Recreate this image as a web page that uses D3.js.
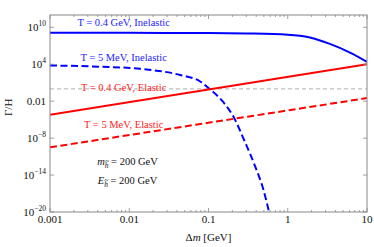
<!DOCTYPE html>
<html>
<head>
<meta charset="utf-8">
<script src="https://cdn.jsdelivr.net/npm/d3@7"></script>
<style>
body { margin: 0; background: #fff; }
text { font-family: "Liberation Serif", "Times New Roman", serif; }
</style>
</head>
<body>
<div id="chart"></div>
<script>
const width = 374;
const height = 247;
const margin = {top: 15, right: 7, bottom: 35, left: 50};

const xTicks = [0.001, 0.01, 0.1, 1, 10];
const xTickLabels = ["0.001", "0.01", "0.1", "1", "10"];
const yTicks = [1e10, 1e4, 1e-2, 1e-8, 1e-14, 1e-20];
const yTickBase = ["10", "10", "0.01", "10", "10", "10"];
const yTickExp = ["10", "4", "", "\u22128", "\u221214", "\u221220"];

// Δm [GeV] and log10(Γ/H)
const dmHotInel = [0.001, 0.01, 0.1, 0.3, 1, 1.9, 3.4, 6.1, 10];
const logHotInel = [9.1, 9.1, 9.07, 9.0, 8.8, 8.35, 7.3, 5.9, 4.4];

const dmColdInel = [0.001, 0.0043, 0.0138, 0.044, 0.0785, 0.103, 0.15, 0.206, 0.29, 0.388, 0.494, 0.6];
const logColdInel = [3.8, 3.6, 3.25, 2.25, 1.2, 0.0, -2.0, -4.5, -8.7, -12.6, -16.4, -20.8];

const dmHotEl = [0.001, 10];
const logHotEl = [-4.2, 4.0];

const dmColdEl = [0.001, 10];
const logColdEl = [-9.5, -1.5];

const series = [
    {dm: dmHotInel, lg: logHotInel, color: "#0000ff", dash: null},
    {dm: dmColdInel, lg: logColdInel, color: "#0000ff", dash: "7,3.5"},
    {dm: dmHotEl, lg: logHotEl, color: "#ff0000", dash: null},
    {dm: dmColdEl, lg: logColdEl, color: "#ff0000", dash: "7,3.5"}
];

const labels = [
    {text: "T = 0.4 GeV, Inelastic", x: 0.0085, y: 10.2, color: "#2222ff"},
    {text: "T = 5 MeV, Inelastic", x: 0.0085, y: 4.5, color: "#2222ff"},
    {text: "T = 0.4 GeV, Elastic", x: 0.0085, y: -0.4, color: "#ff2222"},
    {text: "T = 5 MeV, Elastic", x: 0.0085, y: -6.35, color: "#ff2222"}
];

const svg = d3.select("#chart")
    .append("svg")
    .attr("width", width)
    .attr("height", height);

const x = d3.scaleLog()
    .domain([0.001, 10])
    .range([margin.left, width - margin.right]);

const y = d3.scaleLog()
    .domain([1e-20, 1e12])
    .range([height - margin.bottom, margin.top]);

svg.append("clipPath")
    .attr("id", "plot-clip")
    .append("rect")
    .attr("x", margin.left)
    .attr("y", margin.top)
    .attr("width", width - margin.left - margin.right)
    .attr("height", height - margin.top - margin.bottom);

// Γ/H = 1 reference line
svg.append("line")
    .attr("x1", x(0.001))
    .attr("x2", x(10))
    .attr("y1", y(1))
    .attr("y2", y(1))
    .attr("stroke", "#999")
    .attr("stroke-width", 0.8)
    .attr("stroke-dasharray", "4,3");

// curve labels
svg.selectAll(".curve-label")
    .data(labels)
    .enter()
    .append("text")
    .attr("class", "curve-label")
    .attr("x", d => x(d.x))
    .attr("y", d => y(Math.pow(10, d.y)))
    .attr("text-anchor", "middle")
    .attr("font-size", "10.5px")
    .attr("fill", d => d.color)
    .text(d => d.text);

const line = d3.line()
    .x(d => x(d[0]))
    .y(d => y(Math.pow(10, d[1])))
    .curve(d3.curveMonotoneX);

svg.append("g")
    .attr("clip-path", "url(#plot-clip)")
    .selectAll("path")
    .data(series)
    .enter()
    .append("path")
    .attr("d", d => line(d.dm.map((v, i) => [v, d.lg[i]])))
    .attr("fill", "none")
    .attr("stroke", d => d.color)
    .attr("stroke-width", 2)
    .attr("stroke-dasharray", d => d.dash);

// frame
svg.append("rect")
    .attr("x", margin.left)
    .attr("y", margin.top)
    .attr("width", width - margin.left - margin.right)
    .attr("height", height - margin.top - margin.bottom)
    .attr("fill", "none")
    .attr("stroke", "#888")
    .attr("stroke-width", 1);

// ticks (inside, on all four sides)
const minorX = [];
[0.001, 0.01, 0.1, 1].forEach(d => {
    for (let k = 2; k <= 9; k++) minorX.push(d * k);
});

const tk = svg.append("g").attr("stroke", "#888").attr("stroke-width", 0.8);
xTicks.forEach(v => {
    tk.append("line").attr("x1", x(v)).attr("x2", x(v))
        .attr("y1", y(1e-20)).attr("y2", y(1e-20) - 4);
    tk.append("line").attr("x1", x(v)).attr("x2", x(v))
        .attr("y1", y(1e12)).attr("y2", y(1e12) + 4);
});
minorX.forEach(v => {
    tk.append("line").attr("x1", x(v)).attr("x2", x(v))
        .attr("y1", y(1e-20)).attr("y2", y(1e-20) - 2);
    tk.append("line").attr("x1", x(v)).attr("x2", x(v))
        .attr("y1", y(1e12)).attr("y2", y(1e12) + 2);
});
yTicks.forEach(v => {
    tk.append("line").attr("x1", x(0.001)).attr("x2", x(0.001) + 4)
        .attr("y1", y(v)).attr("y2", y(v));
    tk.append("line").attr("x1", x(10)).attr("x2", x(10) - 4)
        .attr("y1", y(v)).attr("y2", y(v));
});

svg.selectAll(".xlab")
    .data(xTicks)
    .enter()
    .append("text")
    .attr("class", "xlab")
    .attr("x", d => x(d))
    .attr("y", y(1e-20) + 11)
    .attr("text-anchor", "middle")
    .attr("font-size", "11px")
    .attr("fill", "#111")
    .text((d, i) => xTickLabels[i]);

const ylab = svg.selectAll(".ylab")
    .data(yTicks)
    .enter()
    .append("text")
    .attr("class", "ylab")
    .attr("x", x(0.001) - 4)
    .attr("y", d => y(d) + 4)
    .attr("text-anchor", "end")
    .attr("font-size", "11px")
    .attr("fill", "#111");
ylab.append("tspan").text((d, i) => yTickBase[i]);
ylab.append("tspan")
    .attr("font-size", "7.5px")
    .attr("dy", -5)
    .text((d, i) => yTickExp[i]);

// axis titles
svg.append("text")
    .attr("x", x(0.1))
    .attr("y", height - 6)
    .attr("text-anchor", "middle")
    .attr("font-size", "11px")
    .attr("fill", "#111")
    .html('\u0394<tspan font-style="italic">m</tspan> [GeV]');

svg.append("text")
    .attr("transform", `translate(12, ${y(1e-3)}) rotate(-90)`)
    .attr("text-anchor", "middle")
    .attr("font-size", "11px")
    .attr("fill", "#111")
    .text("\u0393/H");

// parameter block
const params = [["m", 0.0095, -12.4], ["E", 0.0095, -15.5]];
params.forEach(p => {
    const t = svg.append("text")
        .attr("x", x(p[1]))
        .attr("y", y(Math.pow(10, p[2])))
        .attr("text-anchor", "middle")
        .attr("font-size", "10.5px")
        .attr("fill", "#111");
    t.append("tspan").attr("font-style", "italic").text(p[0]);
    t.append("tspan").attr("font-style", "italic").attr("font-size", "7.5px")
        .attr("dy", 3).text("h");
    t.append("tspan").attr("dy", -3).text(" = 200 GeV");

    // tilde over the subscript h
    const box = t.node().getExtentOfChar(1);
    const cx = box.x + box.width / 2 + 0.5;
    const cy = box.y - 0.5;
    svg.append("path")
        .attr("d", `M${cx - 2},${cy + 0.6} q1,-1.4 2,-0.4 t2,-0.4`)
        .attr("fill", "none")
        .attr("stroke", "#111")
        .attr("stroke-width", 0.6);
});
</script>
</body>
</html>
